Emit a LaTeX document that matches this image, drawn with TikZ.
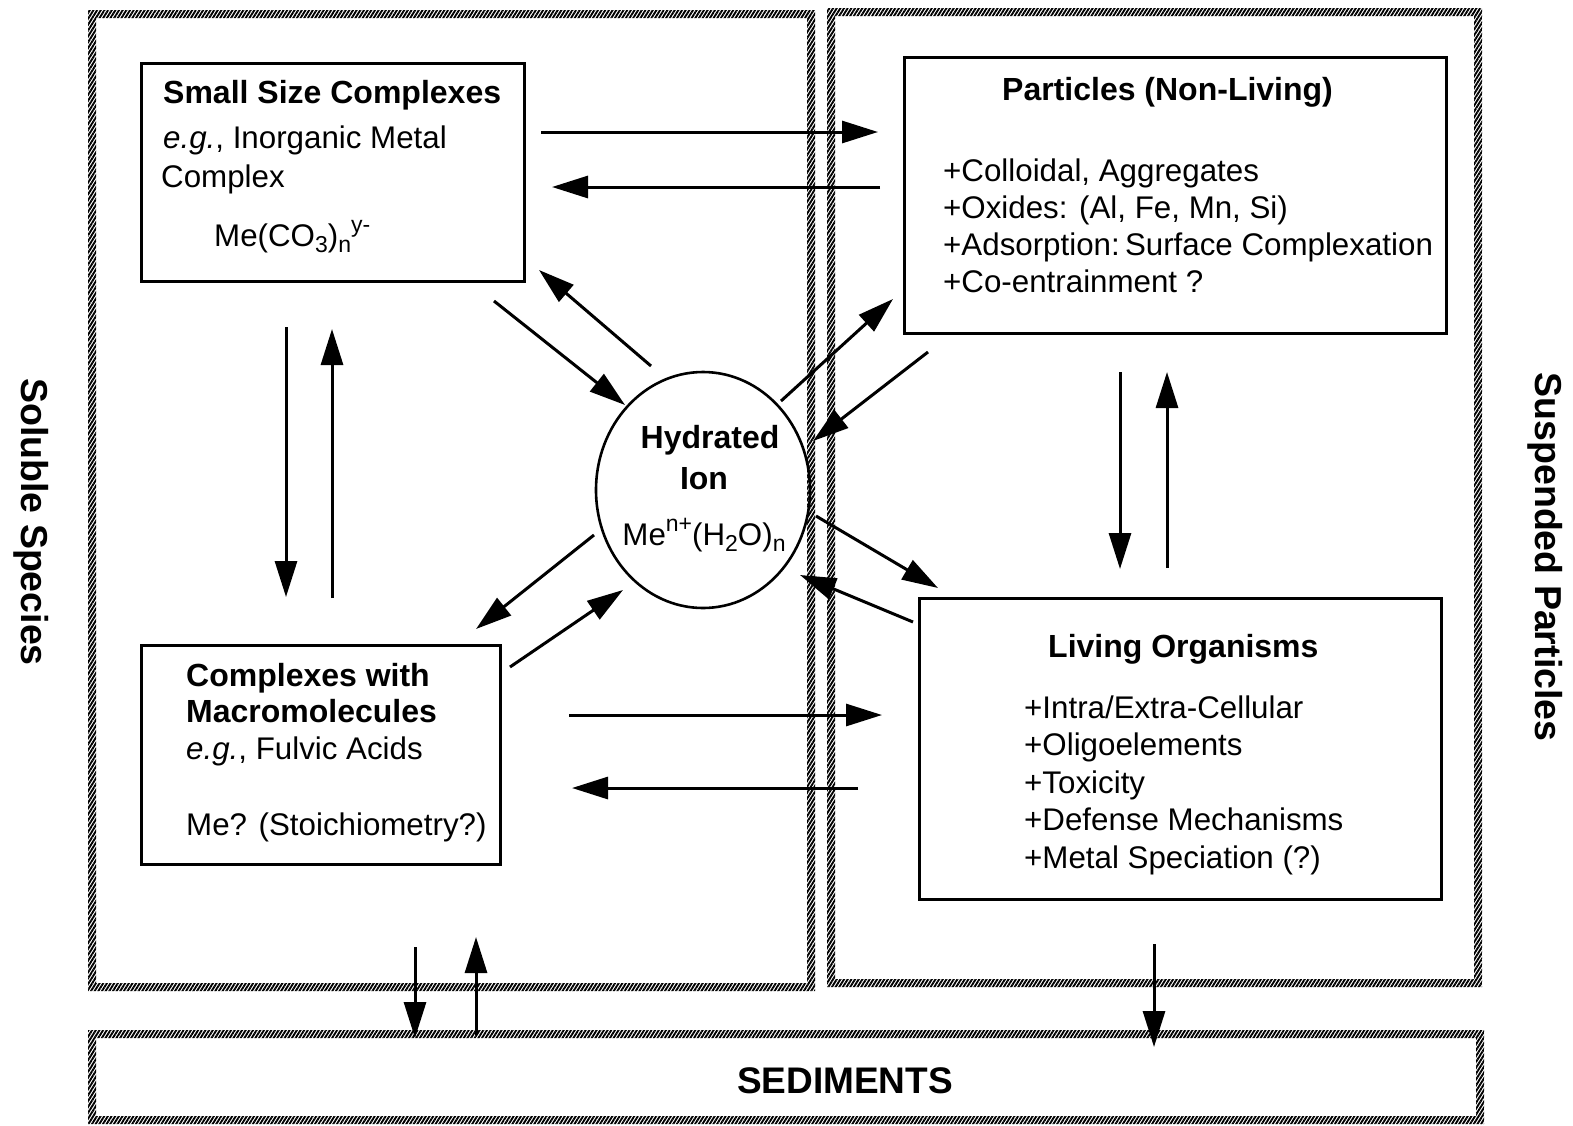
\documentclass[tikz,border=0pt]{standalone}
\usepackage{fontspec}
\setmainfont{Liberation Sans}
\usetikzlibrary{arrows.meta,patterns.meta,shapes.geometric}
\newcommand\mysub[1]{\raisebox{-0.2em}{\fontsize{23}{23}\selectfont #1}}
\newcommand\mysup[1]{\raisebox{0.42em}{\fontsize{23}{23}\selectfont #1}}
\begin{document}
\begin{tikzpicture}[x=1pt,y=-1pt,
  hatch/.style={pattern={Lines[angle=58,distance=3.1pt,line width=1.9pt]},even odd rule},
  box/.style={draw,line width=2.6pt,anchor=north west,inner sep=0pt},
  txt/.style={anchor=base west,inner sep=0pt,font=\fontsize{31.3}{37}\selectfont},
  btxt/.style={txt,font=\fontsize{32}{37}\selectfont\bfseries},
  arr/.style={line width=3pt,-{Triangle[length=36pt,width=22pt]}}]
\useasboundingbox (0,0) rectangle (1573,1125);
% hatched frames
\fill[hatch] (88,10) rectangle (815,991) (96,18) rectangle (807,983);
\fill[hatch] (827,8) rectangle (1482,987) (835,16) rectangle (1474,979);
\fill[hatch] (88,1030) rectangle (1484,1124) (96,1038) rectangle (1476,1116);
% boxes
\node[box,minimum width=383pt,minimum height=218pt] (small) at (140,62) {};
\node[box,minimum width=542pt,minimum height=276pt] (part) at (903,56) {};
\node[box,minimum width=359pt,minimum height=219pt] (macro) at (140,644) {};
\node[box,minimum width=522pt,minimum height=301pt] (living) at (918,597) {};
\node[draw,ellipse,line width=2.6pt,minimum width=214pt,minimum height=236pt,inner sep=0pt] (ion) at (703,490) {};
% texts small
\node[btxt] (s1) at (163,103) {Small Size Complexes};
\node[txt] (s2) at (163,148) {\textit{e.g.}, Inorganic Metal};
\node[txt] (s3) at (161,187) {Complex};
\node[txt] (s4) at (214,246) {Me(CO\mysub{3})\mysub{n}\mysup{y-}};
% texts particles
\node[btxt] (p1) at (1002,100) {Particles (Non-Living)};
\node[txt] (p2) at (943,181) {+Colloidal, Aggregates};
\node[txt] (p3) at (943,218) {+Oxides: (Al, Fe, Mn, Si)};
\node[txt] (p4) at (943,255) {+Adsorption:\,Surface Complexation};
\node[txt] (p5) at (943,292) {+Co-entrainment ?};
% ion
\node[btxt,anchor=base] (i1) at (710,448) {Hydrated};
\node[btxt,anchor=base] (i2) at (704,489) {Ion};
\node[txt,anchor=base] (i3) at (704,545) {Me\mysup{n+}(H\mysub{2}O)\mysub{n}};
% macro
\node[btxt] (m1) at (186,686) {Complexes with};
\node[btxt] (m2) at (186,722) {Macromolecules};
\node[txt] (m3) at (186,759) {\textit{e.g.}, Fulvic Acids};
\node[txt] (m4) at (186,835) {Me? (Stoichiometry?)};
% living
\node[btxt] (l1) at (1048,657) {Living Organisms};
\node[txt] (l2) at (1024,718) {+Intra/Extra-Cellular};
\node[txt] (l3) at (1024,755) {+Oligoelements};
\node[txt] (l4) at (1024,793) {+Toxicity};
\node[txt] (l5) at (1024,830) {+Defense Mechanisms};
\node[txt] (l6) at (1024,868) {+Metal Speciation (?)};
% sediments and side labels
\node[btxt,anchor=base,font=\fontsize{37}{40}\selectfont\bfseries] (sed) at (845,1093) {SEDIMENTS};
\node[btxt,anchor=center,rotate=-90,font=\fontsize{37.5}{40}\selectfont\bfseries] (sol) at (31,522) {Soluble Species};
\node[btxt,anchor=center,rotate=-90,font=\fontsize{37.5}{40}\selectfont\bfseries] (susp) at (1545,557) {Suspended Particles};
% arrow coordinates
\coordinate (a1s) at (541,132); \coordinate (a1e) at (878,132);
\coordinate (a2s) at (880,187); \coordinate (a2e) at (552,187);
\coordinate (a3s) at (494,301); \coordinate (a3e) at (625,405);
\coordinate (a4s) at (651,366); \coordinate (a4e) at (539,270);
\coordinate (a5s) at (286,327); \coordinate (a5e) at (286,597);
\coordinate (a6s) at (332,598); \coordinate (a6e) at (332,329);
\coordinate (a7s) at (781,401); \coordinate (a7e) at (893,299);
\coordinate (a8s) at (928,352); \coordinate (a8e) at (813,441);
\coordinate (a9s) at (816,516); \coordinate (a9e) at (938,588);
\coordinate (a10s) at (913,622); \coordinate (a10e) at (800,575);
\coordinate (a11s) at (594,535); \coordinate (a11e) at (476,629);
\coordinate (a12s) at (510,667); \coordinate (a12e) at (623,590);
\coordinate (a13s) at (569,715); \coordinate (a13e) at (882,715);
\coordinate (a14s) at (858,788); \coordinate (a14e) at (572,788);
\coordinate (a15s) at (1120,372); \coordinate (a15e) at (1120,569);
\coordinate (a16s) at (1167,568); \coordinate (a16e) at (1167,372);
\coordinate (a17s) at (415,947); \coordinate (a17e) at (415,1038);
\coordinate (a18s) at (476,1035); \coordinate (a18e) at (476,937);
\coordinate (a19s) at (1154,944); \coordinate (a19e) at (1154,1047);
\foreach \k in {1,...,19} {\draw[arr] (a\k s) -- (a\k e);}
\end{tikzpicture}
\end{document}
